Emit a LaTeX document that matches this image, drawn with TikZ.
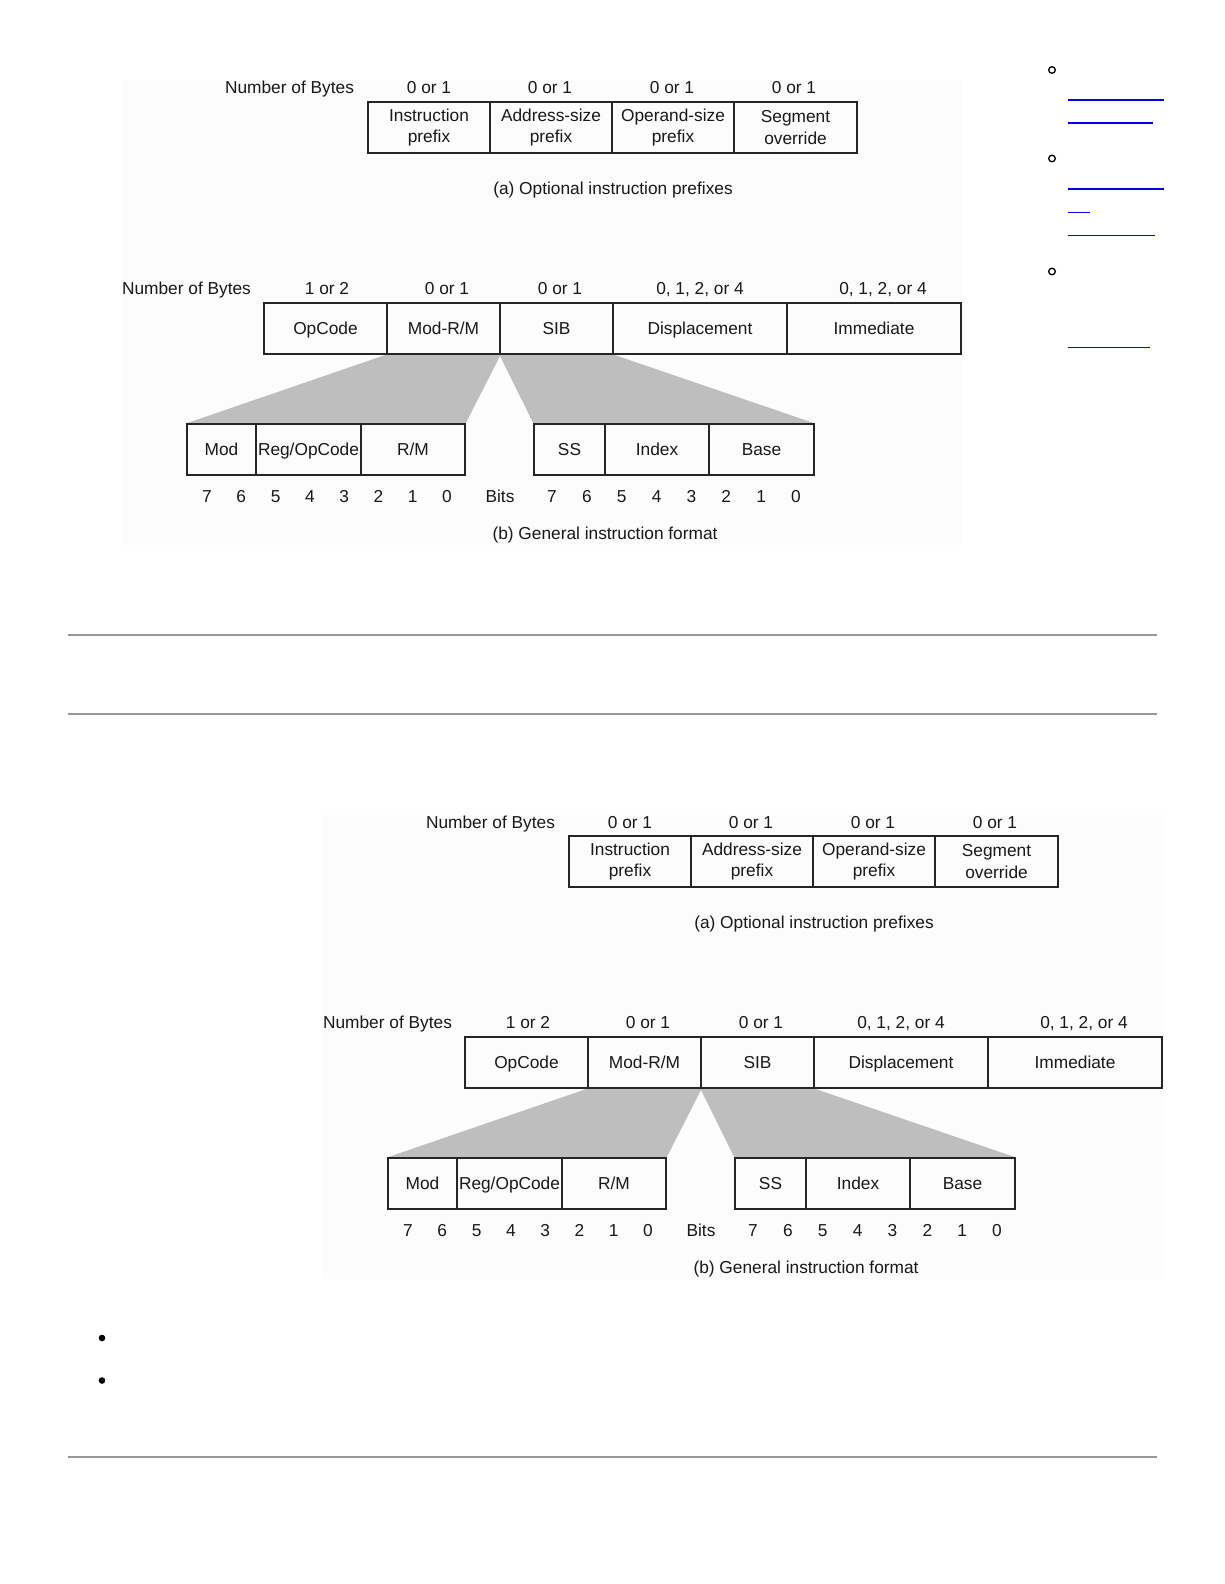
\documentclass[tikz,border=0pt]{standalone}
\usepackage{fontspec}
\setmainfont{Liberation Sans}
\usetikzlibrary{positioning, backgrounds}

\definecolor{figbg}{RGB}{252,252,252}
\definecolor{funnelgray}{RGB}{190,190,190}
\definecolor{rulegray}{RGB}{152,152,152}
\definecolor{linkblue}{RGB}{0,0,235}

\begin{document}
\begin{tikzpicture}[
    x=1pt, y=-1pt,
    every node/.style={font=\fontsize{17.3}{21.5}\selectfont, text=black!90, inner sep=0pt,
                       text height=12.5pt, text depth=0.5pt},
    field/.style={draw=black!85, line width=1.3pt, minimum height=51pt, align=center},
    twoline/.style={text height={}, text depth={}},
    funnel/.style={fill=funnelgray},
    hrule/.style={draw=rulegray, line cap=butt},
    link/.style={draw=linkblue, line width=1.2pt},
    subcirc/.style={draw=black, line width=1.3pt}
]
\useasboundingbox (0,0) rectangle (1224,1584);

% ---- two copies of the same figure ----
\foreach \f/\dx/\dy in {a/0/0, b/201/734} {
\begin{scope}[shift={(\dx,\dy)}]

% ---- (a) prefixes ----
\node (\f-nb1)  at (289.5,88) {Number of Bytes};
\node (\f-n1)   at (429,88)   {0 or 1};
\node (\f-n2)   at (550,88)   {0 or 1};
\node (\f-n3)   at (672,88)   {0 or 1};
\node (\f-n4)   at (794,88)   {0 or 1};

\node[field, twoline, minimum width=122pt] (\f-ipre) at (429,127.5)   {Instruction\\prefix};
\node[field, twoline, minimum width=122pt] (\f-apre) at (551,127.5)   {Address-size\\prefix};
\node[field, twoline, minimum width=122pt] (\f-opre) at (673,127.5)   {Operand-size\\prefix};
\node[field, twoline, minimum width=123pt] (\f-seg)  at (795.5,127.5) {Segment\\override};

\node (\f-capa) at (613,188) {(a) Optional instruction prefixes};

% ---- (b) general format ----
\node (\f-nb2) at (186.5,288) {Number of Bytes};
\node (\f-m1)  at (327,288)   {1 or 2};
\node (\f-m2)  at (447,288)   {0 or 1};
\node (\f-m3)  at (560,288)   {0 or 1};
\node (\f-m4)  at (700,288)   {0, 1, 2, or 4};
\node (\f-m5)  at (883,288)   {0, 1, 2, or 4};

\node[field, minimum width=123pt] (\f-opc)   at (325.5,328.5) {OpCode};
\node[field, minimum width=113pt] (\f-modrm) at (443.5,328.5) {Mod-R/M};
\node[field, minimum width=113pt] (\f-sib)   at (556.5,328.5) {SIB};
\node[field, minimum width=174pt] (\f-disp)  at (700,328.5)   {Displacement};
\node[field, minimum width=174pt] (\f-imm)   at (874,328.5)   {Immediate};

% ---- bit fields ----
\node[field, minimum width=69pt]  (\f-mod)  at (221.5,449.5) {Mod};
\node[field, minimum width=105pt] (\f-reg)  at (308.5,449.5) {Reg/OpCode};
\node[field, minimum width=104pt] (\f-rm)   at (413,449.5)   {R/M};
\node[field, minimum width=71pt]  (\f-ss)   at (569.5,449.5) {SS};
\node[field, minimum width=104pt] (\f-idx)  at (657,449.5)   {Index};
\node[field, minimum width=105pt] (\f-base) at (761.5,449.5) {Base};

\foreach \b in {0,...,7} {
  \node (\f-lb\b) at ({207+34.29*(7-\b)},496) {\b};
  \node (\f-rb\b) at ({552+34.86*(7-\b)},496) {\b};
}
\node (\f-bits) at (500,496) {Bits};

\node (\f-capb) at (605,533) {(b) General instruction format};

% ---- shaded fan-out under Mod-R/M and SIB ----
\begin{scope}[on background layer]
\fill[figbg] (122,81) rectangle (963,545);
\fill[funnel] (\f-modrm.south west) -- (\f-mod.north west) -- (\f-rm.north east) -- (\f-modrm.south east) -- cycle;
\fill[funnel] (\f-sib.south west) -- (\f-ss.north west) -- (\f-base.north east) -- (\f-sib.south east) -- cycle;
\end{scope}

\end{scope}
}

% ---- side list ----
\draw[subcirc] (1052,70) circle (3.3pt);
\draw[subcirc] (1052,158.5) circle (3.3pt);
\draw[subcirc] (1052,271.5) circle (3.3pt);
\draw[link, line width=2pt] (1068,100.5) -- (1164,100.5);
\draw[link, line width=2pt] (1068,123) -- (1153,123);
\draw[link] (1068,189) -- (1164,189);
\draw[link] (1068,212.5) -- (1090,212.5);
\draw[link] (1068,235.5) -- (1155,235.5);
\draw[link] (1068,347.5) -- (1150,347.5);

% ---- rules and bullets ----
\draw[hrule, line width=2.5pt] (68,635) -- (1157,635);
\draw[hrule, line width=1.5pt] (68,714) -- (1157,714);
\fill (102,1338) circle (3.3pt);
\fill (102,1380.5) circle (3.3pt);
\draw[hrule, line width=2.5pt] (68,1457) -- (1157,1457);

\end{tikzpicture}
\end{document}
